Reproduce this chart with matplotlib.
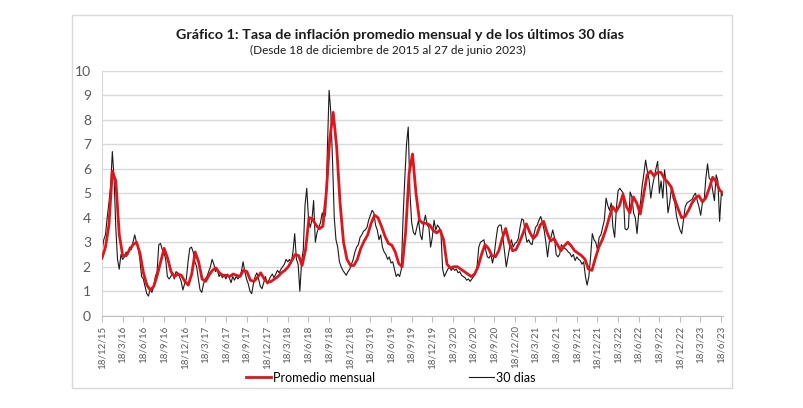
import numpy as np
import pandas as pd
import matplotlib
matplotlib.use("Agg")
from matplotlib import pyplot as plt
from matplotlib.patches import Rectangle

plt.rcParams["font.family"] = ["Lato", "DejaVu Sans"]

titulo = "Gráfico 1: Tasa de inflación promedio mensual y de los últimos 30 días"
subtitulo = "(Desde 18 de diciembre de 2015 al 27 de junio 2023)"
inicio = "2015-12-18"
fin = "2023-06-27"

# Promedio mensual, lectura cada ~medio mes
promedio = [
    2.35, 2.8, 3.7, 5.9, 5.5, 3.3, 2.45, 2.45, 2.7, 2.9, 3.0, 2.55,
    1.75, 1.25, 1.05, 1.2, 1.65, 2.2, 2.75, 2.35, 1.8, 1.6, 1.7, 1.65,
    1.4, 1.25, 1.7, 2.6, 2.2, 1.5, 1.4, 1.65, 1.85, 1.95, 1.75, 1.65,
    1.65, 1.6, 1.7, 1.65, 1.6, 1.85, 1.8, 1.45, 1.4, 1.55, 1.75, 1.5,
    1.35, 1.4, 1.5, 1.6, 1.75, 1.85, 2.0, 2.25, 2.5, 2.45, 2.05, 2.7,
    4.0, 3.95, 3.7, 3.55, 3.65, 5.0, 7.2, 8.3, 6.9, 4.6, 3.0, 2.3,
    2.05, 2.05, 2.3, 2.75, 3.05, 3.3, 3.77, 4.1, 4.0, 3.65, 3.25, 2.95,
    2.88, 2.6, 2.13, 2.0, 3.4, 5.8, 6.6, 5.0, 3.9, 3.77, 3.77, 3.7,
    3.48, 3.38, 3.5, 3.1, 2.1, 1.95, 2.0, 2.0, 1.9, 1.8, 1.7, 1.6,
    1.7, 2.0, 2.5, 2.9, 2.75, 2.45, 2.4, 2.65, 3.15, 3.56, 3.0, 2.65,
    2.7, 3.0, 3.35, 3.75, 3.4, 3.15, 3.3, 3.7, 3.85, 3.4, 3.05, 3.15,
    2.9, 2.65, 2.85, 3.0, 2.85, 2.65, 2.55, 2.45, 2.3, 1.9, 1.85, 2.35,
    2.8, 3.1, 3.5, 4.0, 4.45, 4.25, 4.5, 4.95, 4.45, 4.2, 4.85, 4.6,
    4.15, 4.95, 5.75, 5.9, 5.7, 5.85, 5.85, 5.6, 5.45, 5.25, 4.75, 4.35,
    4.0, 4.05, 4.3, 4.6, 4.8, 4.9, 4.65, 4.8, 5.2, 5.65, 5.47, 5.13,
    5.0,
]

# Tasa de los ultimos 30 dias, lectura cada ~semana (una fila por trimestre)
serie_30d = [
    2.6, 3.1, 3.3, 4.0, 4.6, 5.3, 6.7, 5.6, 3.6, 2.3, 1.9, 2.5,
    2.3, 2.4, 2.6, 2.5, 2.8, 2.7, 3.0, 3.3, 3.0, 2.8, 2.3, 1.6,
    1.5, 1.2, 0.9, 0.8, 1.1, 0.95, 1.2, 1.6, 1.8, 2.9, 2.95, 2.7,
    2.6, 2.3, 1.6, 1.5, 1.6, 1.75, 1.5, 1.8, 1.75, 1.6, 1.4, 1.05,
    1.3, 1.5, 2.2, 2.75, 2.8, 2.6, 2.2, 2.0, 1.5, 1.05, 0.95, 1.3,
    1.5, 1.6, 1.8, 2.0, 2.3, 2.1, 1.8, 1.9, 1.6, 1.7, 1.55, 1.65,
    1.5, 1.7, 1.55, 1.35, 1.6, 1.45, 1.6, 1.5, 1.6, 1.8, 2.2, 1.8,
    1.5, 1.3, 1.0, 0.9, 1.3, 1.6, 1.75, 1.5, 1.2, 1.1, 1.35, 1.6,
    1.3, 1.45, 1.6, 1.7, 1.55, 1.7, 1.85, 1.75, 1.9, 2.0, 2.1, 2.3,
    2.2, 2.3, 2.15, 2.6, 3.35, 2.3, 2.1, 1.0, 2.2, 2.7, 4.5, 5.2,
    4.0, 3.6, 3.9, 4.7, 3.0, 3.4, 3.6, 3.8, 4.2, 3.9, 4.2, 6.8,
    9.2, 8.3, 6.3, 4.0, 3.1, 2.8, 2.2, 2.0, 1.85, 1.75, 1.65, 1.8,
    1.9, 2.1, 2.3, 2.6, 2.8, 2.9, 3.2, 3.3, 3.45, 3.5, 3.6, 3.9,
    4.1, 4.3, 4.2, 3.7, 3.5, 3.1, 3.3, 2.8, 2.6, 2.5, 2.3, 2.4,
    2.15, 2.2, 1.9, 1.6, 1.7, 1.6, 1.9, 4.0, 5.6, 7.0, 7.7, 5.0,
    3.8, 3.4, 3.3, 3.6, 3.9, 3.3, 3.1, 3.8, 4.1, 3.7, 3.6, 2.8,
    3.2, 3.9, 3.5, 3.7, 3.6, 3.4, 1.9, 1.6, 1.75, 1.9, 2.0, 1.85,
    1.95, 1.85, 1.9, 1.75, 1.8, 1.65, 1.6, 1.55, 1.45, 1.5, 1.4, 1.5,
    1.6, 1.7, 2.0, 2.8, 3.0, 3.05, 3.1, 2.7, 2.4, 2.35, 2.5, 2.15,
    2.5, 3.1, 3.6, 3.7, 3.7, 3.2, 2.6, 2.0, 2.4, 2.8, 3.1, 2.8,
    2.95, 3.0, 3.15, 3.6, 3.95, 3.9, 3.4, 3.0, 3.1, 2.95, 2.9, 3.3,
    3.6, 3.7, 3.9, 4.05, 3.8, 3.5, 3.0, 2.4, 3.0, 3.2, 3.5, 3.2,
    2.5, 2.4, 2.5, 2.9, 2.8, 2.75, 2.7, 2.6, 2.55, 2.4, 2.5, 2.25,
    2.4, 2.3, 2.25, 2.1, 2.2, 1.6, 1.25, 1.6, 2.4, 3.35, 3.1, 3.0,
    2.7, 3.2, 3.3, 3.6, 3.9, 4.8, 4.5, 4.3, 4.6, 3.6, 3.2, 4.4,
    5.1, 5.2, 5.1, 5.0, 3.55, 3.5, 3.6, 5.05, 4.85, 4.2, 4.0, 3.35,
    4.2, 4.6, 5.3, 5.8, 6.35, 5.9, 5.55, 4.8, 5.3, 5.65, 6.0, 6.3,
    5.0, 5.5, 4.8, 5.95, 5.3, 4.2, 4.6, 5.2, 4.8, 4.6, 4.05, 3.75,
    3.5, 3.35, 3.9, 4.45, 4.6, 4.65, 4.7, 4.75, 4.9, 5.0, 4.7, 4.45,
    4.1, 4.6, 4.7, 5.6, 6.2, 5.6, 5.55, 5.1, 4.7, 5.75, 5.5, 3.85,
    5.0, 4.9,
]

fechas_prom = pd.date_range(inicio, fin, periods=len(promedio))
fechas_30d = pd.date_range(inicio, fin, periods=len(serie_30d))
ticks_x = pd.date_range(inicio, periods=31, freq=pd.DateOffset(months=3))
etiquetas_x = [f"{d.day}/{d.month}/{d.year % 100}" for d in ticks_x]

fig = plt.figure(figsize=(8.04, 4.08), dpi=100)
ax = fig.add_axes([0.1269, 0.2262, 0.7724, 0.6005])

fig.add_artist(Rectangle((0.0896, 0.049), 0.8208, 0.914, transform=fig.transFigure,
                         fill=False, edgecolor="#d9d9d9", linewidth=1.0))

ax.plot(fechas_30d, serie_30d, color="#1a1a1a", linewidth=0.8, label="30 dias", zorder=2)
ax.plot(fechas_prom, promedio, color="#e0151b", linewidth=2.0, label="Promedio mensual", zorder=3)

ax.set_ylim(0, 10)
ax.set_yticks(range(0, 11))
ax.set_xlim(pd.Timestamp(inicio), pd.Timestamp(fin))
ax.set_xticks(ticks_x)
ax.set_xticklabels(etiquetas_x, rotation=90, fontsize=7, color="#595959")
ax.tick_params(axis="y", length=0, labelsize=10, colors="#595959", pad=8)
ax.tick_params(axis="x", length=4, color="#bfbfbf", pad=3)
ax.grid(axis="y", color="#d9d9d9", linewidth=1.0)
ax.set_axisbelow(True)
for s in ["top", "right"]:
    ax.spines[s].set_visible(False)
ax.spines["left"].set_color("#d9d9d9")
ax.spines["bottom"].set_color("#bfbfbf")

fig.text(0.4975, 0.914, titulo, ha="center", va="center", fontsize=10.4,
         fontweight="bold", color="#1a1a1a")
fig.text(0.483, 0.877, subtitulo, ha="center", va="center", fontsize=8.5, color="#1a1a1a")

handles, labels = ax.get_legend_handles_labels()
fig.legend(handles[::-1], labels[::-1], loc="center left", bbox_to_anchor=(0.292, 0.074),
           ncol=2, frameon=False, fontsize=9, columnspacing=7.5, handlelength=2.0,
           handletextpad=0.15)

plt.savefig("out.png", dpi=100)
